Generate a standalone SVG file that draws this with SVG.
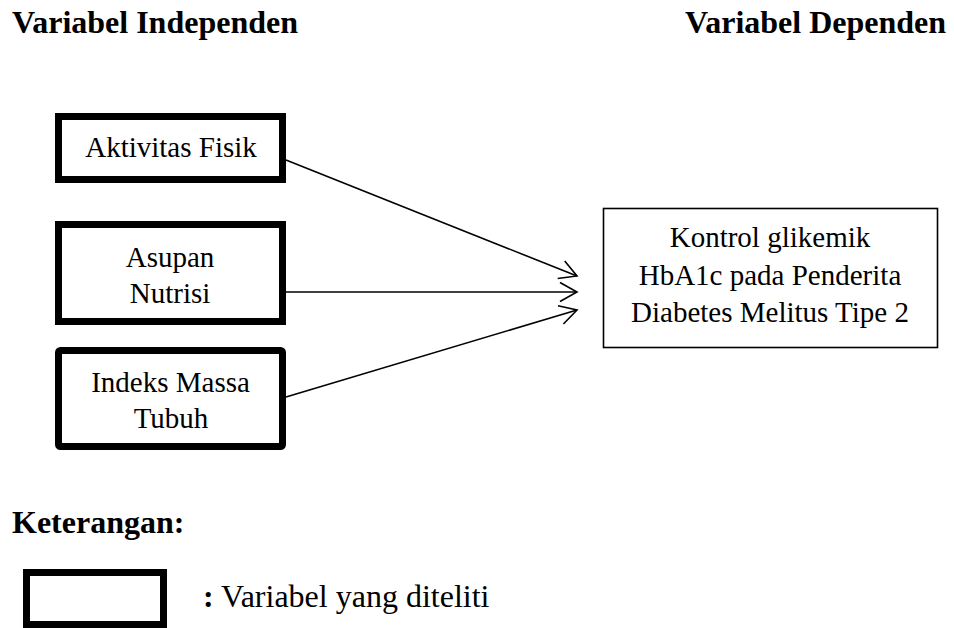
<svg xmlns="http://www.w3.org/2000/svg" width="954" height="628" viewBox="0 0 954 628" font-family="Liberation Serif, serif">
<style>
.h{font-size:32px;font-weight:bold}
.t{font-size:29px}
.m{text-anchor:middle}
.thick{fill:#fff;stroke:#000;stroke-width:7}
.thin{fill:#fff;stroke:#000;stroke-width:1.6}
.c{stroke:#000;stroke-width:1.6;fill:none}
</style>
<defs>
<marker id="arr" markerUnits="userSpaceOnUse" markerWidth="24" markerHeight="24" viewBox="-20 -12 24 24" refX="0" refY="0" orient="auto" overflow="visible">
<path d="M-17,-9.5 L0,0 L-17,9.5" fill="none" stroke="#000" stroke-width="1.6"/>
</marker>
</defs>
<rect width="954" height="628" fill="#fff"/>
<g id="headers">
<text class="h" x="12" y="33">Variabel Independen</text>
<text class="h" x="685" y="33">Variabel Dependen</text>
</g>
<g id="connectors">
<line class="c" x1="286" y1="160" x2="577" y2="276" marker-end="url(#arr)"/>
<line class="c" x1="286" y1="292" x2="577" y2="292" marker-end="url(#arr)"/>
<line class="c" x1="286" y1="397" x2="577" y2="310" marker-end="url(#arr)"/>
</g>
<g id="aktivitas">
<rect class="thick" x="58.5" y="116.5" width="224" height="63"/>
<text class="t m" x="171" y="157">Aktivitas Fisik</text>
</g>
<g id="asupan">
<rect class="thick" x="58.5" y="224.5" width="224" height="97"/>
<text class="t m" x="170" y="267">Asupan</text>
<text class="t m" x="170" y="303">Nutrisi</text>
</g>
<g id="imt">
<rect class="thick" x="58.5" y="350.5" width="224" height="96" rx="2"/>
<text class="t m" x="170.5" y="392">Indeks Massa</text>
<text class="t m" x="171" y="428">Tubuh</text>
</g>
<g id="kontrol">
<rect class="thin" x="603.5" y="208.5" width="334" height="139"/>
<text class="t m" x="770" y="247">Kontrol glikemik</text>
<text class="t m" x="770" y="285">HbA1c pada Penderita</text>
<text class="t m" x="770" y="322">Diabetes Melitus Tipe 2</text>
</g>
<g id="legend">
<text class="h" x="12" y="533">Keterangan:</text>
<rect class="thick" x="26.5" y="572.5" width="137" height="52"/>
<text x="203" y="607" font-size="32"><tspan font-weight="bold">:</tspan> Variabel yang diteliti</text>
</g>
</svg>
